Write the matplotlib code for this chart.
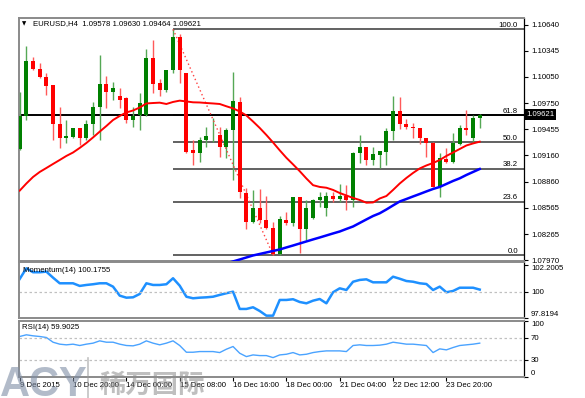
import matplotlib
matplotlib.use("Agg")
import matplotlib.pyplot as plt
from matplotlib.lines import Line2D
import numpy as np

plt.rcParams['font.family'] = ['Liberation Sans', 'DejaVu Sans']

header = "EURUSD,H4  1.09578 1.09630 1.09464 1.09621"

opens = [1.09231, 1.09609, 1.10234, 1.10136, 1.10052, 1.09958, 1.09512, 1.09353, 1.09364, 1.09466,
         1.09353, 1.09512, 1.09711, 1.09966, 1.09882, 1.09833, 1.09807, 1.09560, 1.09617, 1.09617,
         1.10261, 1.09977, 1.09901, 1.10128, 1.10506, 1.10091, 1.09220, 1.09182, 1.09333, 1.09385,
         1.09390, 1.09257, 1.09447, 1.09768, 1.08728, 1.08406, 1.08558, 1.08425, 1.08338, 1.08035,
         1.08425, 1.08394, 1.08683, 1.08323, 1.08444, 1.08652, 1.08558, 1.08701, 1.08663, 1.08701,
         1.08652, 1.09189, 1.09250, 1.09106, 1.09163, 1.09200, 1.09436, 1.09663, 1.09512, 1.09484,
         1.09466, 1.09353, 1.09296, 1.08803, 1.09114, 1.09080, 1.09285, 1.09473, 1.09360, 1.09578]
highs = [1.09882, 1.10404, 1.10279, 1.10204, 1.10091, 1.09960, 1.09711, 1.09560, 1.09470, 1.09470,
         1.09560, 1.09761, 1.10299, 1.10064, 1.09989, 1.09920, 1.09825, 1.09711, 1.09864, 1.10367,
         1.10469, 1.10026, 1.10130, 1.10590, 1.10534, 1.10095, 1.09333, 1.09371, 1.09484, 1.09580,
         1.09484, 1.09466, 1.10102, 1.09825, 1.08785, 1.08766, 1.08777, 1.08701, 1.08406, 1.08470,
         1.08519, 1.08690, 1.08690, 1.08652, 1.08663, 1.08746, 1.08746, 1.08746, 1.08830, 1.08822,
         1.09195, 1.09390, 1.09255, 1.09257, 1.09212, 1.09466, 1.09836, 1.09818, 1.09568, 1.09530,
         1.09470, 1.09357, 1.09307, 1.09182, 1.09239, 1.09409, 1.09504, 1.09674, 1.09617, 1.09630]
lows = [1.09220, 1.09560, 1.10130, 1.10034, 1.09844, 1.09333, 1.09239, 1.09296, 1.09353, 1.09276,
        1.09333, 1.09390, 1.09333, 1.09693, 1.09788, 1.09693, 1.09530, 1.09484, 1.09447, 1.09610,
        1.09864, 1.09836, 1.09882, 1.10091, 1.09977, 1.09182, 1.09049, 1.09087, 1.09257, 1.09314,
        1.09144, 1.09126, 1.08879, 1.08671, 1.08323, 1.08391, 1.08387, 1.08323, 1.08028, 1.08030,
        1.08368, 1.08357, 1.08047, 1.08198, 1.08440, 1.08576, 1.08474, 1.08633, 1.08633, 1.08538,
        1.08576, 1.09069, 1.09049, 1.09049, 1.09012, 1.09049, 1.09333, 1.09455, 1.09455, 1.09353,
        1.09285, 1.09144, 1.08800, 1.08690, 1.09075, 1.09075, 1.09280, 1.09390, 1.09314, 1.09464]
closes = [1.09606, 1.10234, 1.10136, 1.10052, 1.09950, 1.09512, 1.09353, 1.09379, 1.09466, 1.09353,
          1.09512, 1.09711, 1.09966, 1.09882, 1.09927, 1.09788, 1.09560, 1.09609, 1.09750, 1.10261,
          1.09966, 1.09901, 1.10128, 1.10506, 1.10128, 1.09200, 1.09182, 1.09333, 1.09379, 1.09390,
          1.09257, 1.09447, 1.09776, 1.08746, 1.08406, 1.08558, 1.08425, 1.08338, 1.08035, 1.08433,
          1.08387, 1.08683, 1.08323, 1.08558, 1.08652, 1.08683, 1.08697, 1.08663, 1.08701, 1.08652,
          1.09189, 1.09250, 1.09106, 1.09171, 1.09208, 1.09436, 1.09663, 1.09512, 1.09484, 1.09466,
          1.09353, 1.09296, 1.08803, 1.09126, 1.09080, 1.09296, 1.09466, 1.09447, 1.09580, 1.09621]

# moving averages
ma_red = [1.08758, 1.08839, 1.08913, 1.08970, 1.09015, 1.09061, 1.09106, 1.09152, 1.09191, 1.09243,
          1.09299, 1.09362, 1.09428, 1.09492, 1.09560, 1.09606, 1.09646, 1.09668, 1.09702, 1.09748,
          1.09753, 1.09757, 1.09742, 1.09765, 1.09780, 1.09771, 1.09761, 1.09759, 1.09753, 1.09748,
          1.09742, 1.09716, 1.09692, 1.09657, 1.09612, 1.09543, 1.09470, 1.09390, 1.09305, 1.09216,
          1.09131, 1.09056, 1.08979, 1.08896, 1.08820, 1.08800, 1.08791, 1.08766, 1.08731, 1.08703,
          1.08675, 1.08652, 1.08621, 1.08624, 1.08669, 1.08697, 1.08766, 1.08839, 1.08902, 1.08959,
          1.09010, 1.09044, 1.09072, 1.09106, 1.09152, 1.09191, 1.09231, 1.09271, 1.09294, 1.09314]
blue_start = 30
ma_blue = [1.07908, 1.07931, 1.07954, 1.07976, 1.07999, 1.08022, 1.08039, 1.08056, 1.08073, 1.08090,
           1.08113, 1.08135, 1.08158, 1.08181, 1.08204, 1.08226, 1.08249, 1.08272, 1.08294, 1.08323,
           1.08351, 1.08391, 1.08431, 1.08470, 1.08501, 1.08544, 1.08590, 1.08635, 1.08663, 1.08692,
           1.08720, 1.08749, 1.08777, 1.08800, 1.08834, 1.08868, 1.08898, 1.08936, 1.08970, 1.09004]

momentum = [101.06, 101.95, 101.62, 101.62, 101.67, 101.17, 100.70, 100.70, 100.70, 100.48,
            100.56, 100.62, 100.70, 100.70, 100.42, 99.67, 99.50, 99.53, 99.81, 100.70,
            100.56, 100.56, 100.62, 101.12, 100.50, 99.58, 99.45, 99.50, 99.53, 99.58,
            99.73, 99.87, 100.00, 98.56, 98.56, 98.70, 98.39, 98.00, 98.00, 99.31,
            99.31, 99.37, 99.14, 99.03, 99.25, 99.39, 99.03, 99.95, 100.28, 100.14,
            100.83, 100.98, 101.03, 100.78, 100.78, 100.78, 101.25, 101.08, 100.89, 100.83,
            100.70, 100.64, 100.14, 100.42, 99.95, 100.06, 100.33, 100.33, 100.33, 100.1755]
rsi = [71.8, 74.8, 73.0, 71.8, 70.0, 61.6, 58.1, 56.9, 58.1, 55.7,
       58.1, 59.9, 64.0, 61.6, 61.6, 58.1, 55.7, 55.1, 58.1, 64.0,
       59.9, 56.9, 59.9, 64.0, 55.7, 43.7, 43.7, 44.9, 44.9, 44.9,
       43.1, 49.1, 53.9, 41.9, 35.9, 38.9, 37.7, 37.7, 34.1, 38.9,
       40.1, 43.1, 38.9, 40.1, 43.1, 44.9, 46.1, 46.1, 46.1, 44.9,
       55.7, 56.9, 55.7, 55.7, 56.3, 58.1, 61.6, 59.9, 58.1, 58.1,
       56.9, 55.7, 43.1, 49.7, 47.9, 52.1, 55.7, 56.9, 58.1, 59.9025]

price_ticks = [1.10640, 1.10345, 1.10050, 1.09750, 1.09455, 1.09160, 1.08860, 1.08565, 1.08265, 1.07970]
fib_levels = [0.0, 23.6, 38.2, 50.0, 61.8, 100.0]
fib_high, fib_low = 1.10590, 1.08028
fib_from, fib_to = 23, 38
hline_price = 1.09615
last_price = 1.09621

date_ticks = [0, 8, 16, 24, 32, 40, 48, 56, 64]
date_labels = ["9 Dec 2015", "10 Dec 20:00", "14 Dec 00:00", "15 Dec 08:00", "16 Dec 16:00",
               "18 Dec 00:00", "21 Dec 04:00", "22 Dec 12:00", "23 Dec 20:00"]

W, H = 585, 398
fig = plt.figure(figsize=(W / 100, H / 100), dpi=100)
L, R = 19, 524
ax = fig.add_axes([L / W, 1 - 261 / H, (R - L) / W, (261 - 18.3) / H])
axm = fig.add_axes([L / W, 1 - 318.3 / H, (R - L) / W, 56 / H], sharex=ax)
axr = fig.add_axes([L / W, 1 - 376.7 / H, (R - L) / W, 56 / H], sharex=ax)

fs = 5.6
x = np.arange(len(opens))
o = np.array(opens)
c = np.array(closes)
up = c >= o
body_col = np.where(up, '#008000', '#ff0000')
wick_col = np.where(up, '#55a855', '#ff5a5a')
ax.vlines(x, lows, highs, colors=wick_col, lw=1, zorder=3)
ax.bar(x, np.maximum(np.abs(c - o), 0.00004), bottom=np.minimum(o, c), width=0.62,
       color=body_col, linewidth=0, zorder=4)

ax.plot(x, ma_red, color='#ff0000', lw=1.4, zorder=5)
ax.plot(x[blue_start:], ma_blue, color='#0000ff', lw=1.8, zorder=5)

# fibonacci retracement
for lev in fib_levels:
    p = fib_low + (fib_high - fib_low) * lev / 100
    ax.hlines(p, fib_from, 80, color='#555555', lw=1.3, zorder=2)
    ax.text(74.75, p + 0.00003, f"{lev:.1f}", ha='right', va='bottom', fontsize=fs, zorder=6)
ax.plot([fib_from, fib_to], [fib_high, fib_low], color='#ff4040', lw=1, ls=(0, (1, 2)), zorder=3)
ax.vlines(fib_from, fib_high - 0.0001, fib_high, color='#333333', lw=1, zorder=2)
ax.axhline(hline_price, color='black', lw=1.4, zorder=2)

ax.set_xlim(-0.105, 75.64)
ax.set_ylim(1.07959, 1.10715)
ax.yaxis.tick_right()
ax.set_yticks(price_ticks)
ax.set_yticklabels([f"{p:.5f}" for p in price_ticks])
ax.tick_params(axis='y', length=3, width=0.8, labelsize=fs, pad=2)
ax.tick_params(axis='x', bottom=False, labelbottom=False)
ax.text(1.004, last_price, f"{last_price:.5f}", transform=ax.get_yaxis_transform(),
        color='white', fontsize=fs, va='center', ha='left', zorder=10,
        bbox=dict(facecolor='black', edgecolor='none', pad=1.3))
ax.text(0.006, 0.9765, "\u25bc", transform=ax.transAxes, fontsize=4, va='center',
        family='DejaVu Sans')
ax.text(0.028, 0.9765, header, transform=ax.transAxes, fontsize=fs, va='center')

# momentum
axm.plot(x, momentum, color='#1e90ff', lw=1.8)
axm.axhline(100, color='#c0c0c0', lw=0.9, ls=(0, (2, 2)))
axm.set_ylim(97.78, 102.45)
axm.yaxis.tick_right()
axm.set_yticks([102.2005, 100, 97.8194])
axm.set_yticklabels(["102.2005", "100", "97.8194"])
axm.tick_params(axis='y', length=3, width=0.8, labelsize=fs, pad=2)
labs = axm.get_yticklabels()
labs[0].set_va('top')
labs[2].set_va('bottom')
axm.tick_params(axis='x', bottom=False, labelbottom=False)
axm.text(0.008, 0.86, "Momentum(14) 100.1755", transform=axm.transAxes, fontsize=fs, va='center')

# rsi
axr.plot(x, rsi, color='#4aa3ff', lw=1)
for lv in (70, 30):
    axr.axhline(lv, color='#c0c0c0', lw=0.9, ls=(0, (2, 2)))
axr.set_ylim(0, 100)
axr.yaxis.tick_right()
axr.set_yticks([100, 70, 30, 0])
axr.set_yticklabels(["100", "70", "30", "0"])
axr.tick_params(axis='y', length=3, width=0.8, labelsize=fs, pad=2)
labs = axr.get_yticklabels()
labs[0].set_va('top')
labs[3].set_va('bottom')
axr.text(0.006, 0.875, "RSI(14) 59.9025", transform=axr.transAxes, fontsize=fs, va='center')
axr.set_xticks(date_ticks)
axr.set_xticklabels(date_labels, ha='left')
axr.tick_params(axis='x', length=3, width=0.8, labelsize=fs, pad=1)

for a in (ax, axm, axr):
    for s in ('top', 'left', 'bottom'):
        a.spines[s].set_color('#8a8a8a')
        a.spines[s].set_linewidth(1.4)
    a.spines['right'].set_color('black')
    a.spines['right'].set_linewidth(0.9)

# watermark
fig.text(0.0, 0.004, "ACY", fontsize=30, fontweight='bold', color='#7f8ea6', alpha=0.6,
         va='baseline', family=['Liberation Sans Narrow', 'Liberation Sans'])
fig.add_artist(Line2D([88 / W, 88 / W], [0.0, 40 / H], color='#9a9a9a', alpha=0.6, lw=1.2))
fig.text(100 / W, 0.012, "稀万国际", fontsize=19, fontweight='bold', color='#8c8c8c', alpha=0.55,
         va='baseline', family=['Noto Sans CJK SC', 'DejaVu Sans'])

fig.savefig("out.png", dpi=100)
